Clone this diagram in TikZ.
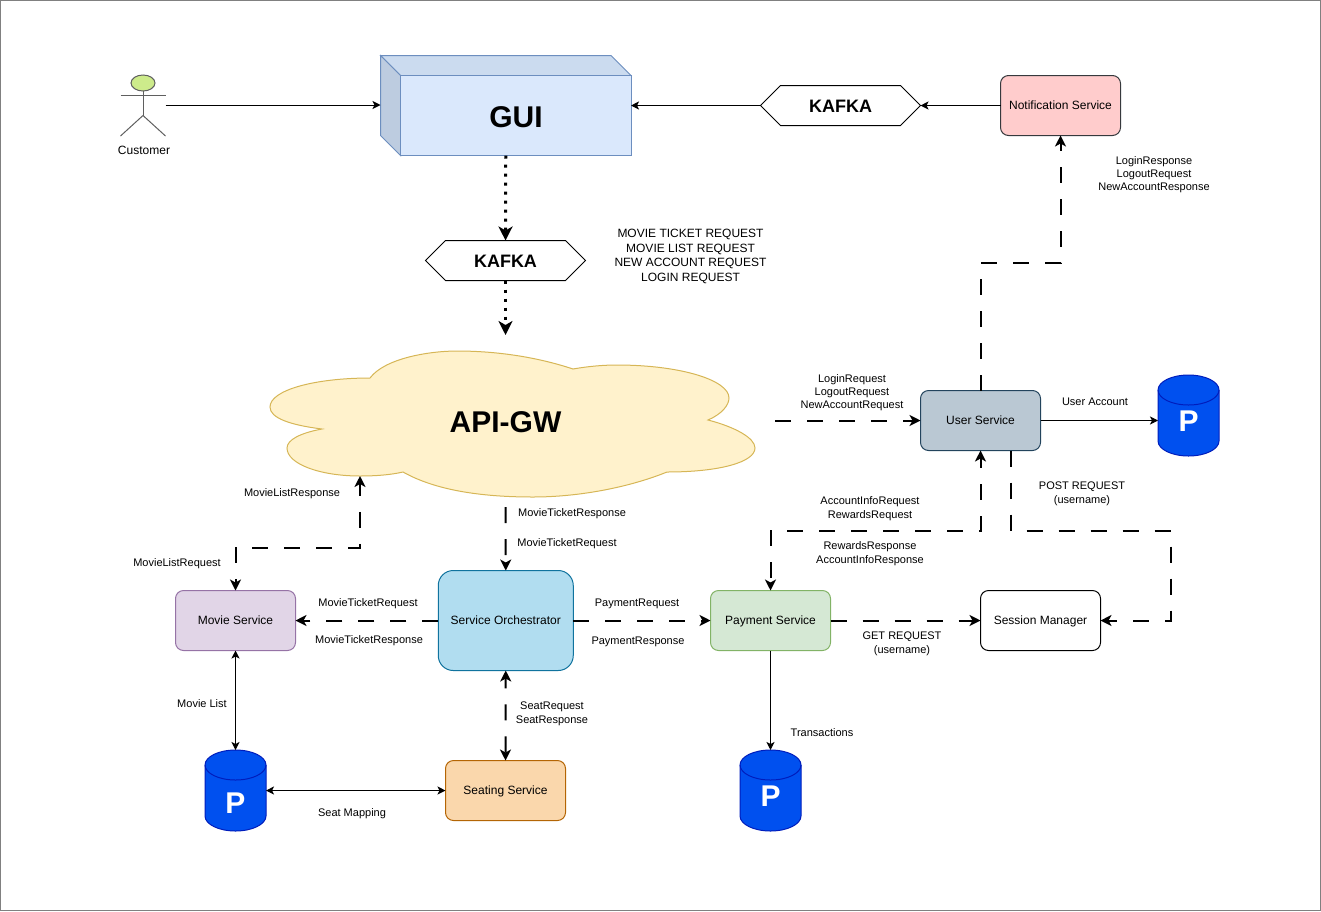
\documentclass[tikz,border=0pt]{standalone}
\usepackage{fontspec}
\setmainfont{Liberation Sans}
\usepackage{xcolor}
\usetikzlibrary{arrows.meta,shapes.symbols}

\definecolor{framegray}{HTML}{808080}
\definecolor{guifill}{HTML}{DAE8FC}
\definecolor{guitop}{HTML}{CBDBEF}
\definecolor{guileft}{HTML}{BDCCE0}
\definecolor{guiline}{HTML}{6C8EBF}
\definecolor{cloudfill}{HTML}{FFF2CC}
\definecolor{cloudline}{HTML}{D6B656}
\definecolor{headfill}{HTML}{CDEB8B}
\definecolor{stickline}{HTML}{5F5F5F}
\definecolor{notiffill}{HTML}{FFCCCC}
\definecolor{notifline}{HTML}{36393D}
\definecolor{userfill}{HTML}{BAC8D3}
\definecolor{userline}{HTML}{23445D}
\definecolor{moviefill}{HTML}{E1D5E7}
\definecolor{movieline}{HTML}{9673A6}
\definecolor{orchfill}{HTML}{B1DDF0}
\definecolor{orchline}{HTML}{10739E}
\definecolor{payfill}{HTML}{D5E8D4}
\definecolor{payline}{HTML}{82B366}
\definecolor{seatfill}{HTML}{FAD7AC}
\definecolor{seatline}{HTML}{B46504}
\definecolor{dbfill}{HTML}{0050EF}
\definecolor{dbline}{HTML}{001DBC}

\tikzset{
  svcbox/.style={draw, line width=1pt, rectangle, rounded corners=8pt, minimum width=120pt, minimum height=60pt, inner sep=0pt, outer sep=0pt, text height=8.6pt, text depth=0pt, font=\fontsize{12}{14.6}\selectfont},
  kafkabox/.style={draw, line width=1pt, signal, signal to=east and west, signal pointer angle=90, minimum width=160pt, minimum height=40pt, inner sep=0pt, outer sep=0pt, text height=14.9pt, text depth=0pt, font=\fontsize{18}{20}\selectfont\bfseries},
  dbstore/.style={rectangle, minimum width=61pt, minimum height=81pt, inner sep=0pt, outer sep=0pt},
  dbletter/.style={text=white, inner sep=0pt, font=\fontsize{30}{32}\selectfont\bfseries},
  lbl/.style={align=center, inner sep=0pt, yshift=-2pt, font=\fontsize{11}{13}\selectfont},
  lblwide/.style={align=center, inner sep=0pt, yshift=-2pt, font=\fontsize{11}{14}\selectfont},
  thinline/.style={line width=1pt, -{Stealth[length=8pt,width=8pt,inset=2pt]}},
  thinboth/.style={line width=1pt, {Stealth[length=8pt,width=8pt,inset=2pt]}-{Stealth[length=8pt,width=8pt,inset=2pt]}},
  dashline/.style={line width=2pt, dash pattern=on 16pt off 16pt, -{Stealth[length=11pt,width=11pt,inset=3pt]}},
  dashboth/.style={line width=2pt, dash pattern=on 16pt off 16pt, dash phase=5.5pt, {Stealth[length=11pt,width=11pt,inset=3pt]}-{Stealth[length=11pt,width=11pt,inset=3pt]}},
  dotline/.style={line width=3pt, dash pattern=on 3pt off 6pt, -{Stealth[length=14pt,width=14pt,inset=4pt]}},
}

\begin{document}
\begin{tikzpicture}[x=1pt, y=-1pt]

\useasboundingbox (0,0) rectangle (1321,911);
\draw[framegray, line width=1pt] (0.5,0.5) rectangle (1320.5,910.5);

% ===== Customer =====

\node[inner sep=0pt, outer sep=0pt, minimum width=45pt, minimum height=76pt] (customer) at (143,105) {};
\draw[stickline, line width=1pt, fill=headfill] (143,83) ellipse [x radius=12, y radius=8];
\draw[stickline, line width=1pt] (143,91) -- (143,115.5);
\draw[stickline, line width=1pt] (120.5,95) -- (165.5,95);
\draw[stickline, line width=1pt] (120.5,136) -- (143,115.5) -- (165.5,136);
\node[font=\fontsize{12}{14}\selectfont, inner sep=0pt] (customerlbl) at (144,150) {Customer};

% ===== GUI =====

\draw[guiline, line width=1pt, fill=guitop] (380.5,55.5) -- (611,55.5) -- (631,75.5) -- (400.5,75.5) -- cycle;
\draw[guiline, line width=1pt, fill=guileft] (380.5,55.5) -- (400.5,75.5) -- (400.5,155.5) -- (380.5,135.5) -- cycle;
\draw[guiline, line width=1pt, fill=guifill] (400.5,75.5) rectangle (631,155.5);
\node[inner sep=0pt, outer sep=0pt, minimum width=250.5pt, minimum height=100pt] (gui) at (505.75,105.5) {};
\node[font=\fontsize{30}{32}\selectfont\bfseries, inner sep=0pt] (guilbl) at (516,117) {GUI};

% ===== Kafka =====

\node[kafkabox] (kafkain) at (505.5,260.5) {KAFKA};
\node[kafkabox] (kafkaout) at (840.5,105.5) {KAFKA};
\node[align=center, inner sep=0pt, font=\fontsize{12}{14.6}\selectfont] (kafkalbl) at (690.5,256.5) {MOVIE TICKET REQUEST\\MOVIE LIST REQUEST\\NEW ACCOUNT REQUEST\\LOGIN REQUEST};

% ===== API gateway =====

\draw[cloudline, line width=1pt, fill=cloudfill] (370,378)
  .. controls (385,358) and (430,351) .. (457,351)
  .. controls (500,351) and (540,358) .. (573,369)
  .. controls (590,366) and (605,365) .. (617,365)
  .. controls (680,365) and (729,380) .. (729,398)
  .. controls (729,405) and (722,414) .. (708,420)
  .. controls (735,427) and (755,438) .. (755,448)
  .. controls (755,462) and (720,472) .. (667,472)
  .. controls (630,487) and (580,497) .. (533,497)
  .. controls (480,497) and (435,490) .. (403,472)
  .. controls (390,475) and (375,476) .. (360,476)
  .. controls (320,476) and (287,464) .. (287,448)
  .. controls (287,440) and (300,433) .. (322,429)
  .. controls (290,425) and (270,418) .. (270,407)
  .. controls (270,390) and (315,378) .. (370,378) -- cycle;
\node[font=\fontsize{30}{32}\selectfont\bfseries, inner sep=0pt] (apigw) at (505.5,422) {API-GW};

\coordinate (cloudtop) at (505.5,335);
\coordinate (cloudright) at (775,420.5);
\coordinate (cloudbottom) at (505.5,507);
\coordinate (cloudleft) at (360,476);

% ===== Services =====

\node[svcbox, fill=notiffill, draw=notifline] (notif) at (1060.5,105.5) {Notification Service};
\node[svcbox, fill=userfill, draw=userline] (user) at (980.5,420.5) {User Service};
\node[svcbox, fill=moviefill, draw=movieline] (movie) at (235.5,620.5) {Movie Service};
\node[svcbox, fill=orchfill, draw=orchline, rounded corners=15pt, minimum width=135pt, minimum height=100pt] (orch) at (505.75,620.5) {Service Orchestrator};
\node[svcbox, fill=payfill, draw=payline] (payment) at (770.5,620.5) {Payment Service};
\node[svcbox] (session) at (1040.5,620.5) {Session Manager};
\node[svcbox, fill=seatfill, draw=seatline] (seating) at (505.5,790.5) {Seating Service};

% ===== Stores =====

\foreach \dbname/\dbx/\dby/\dbdrop in {dbuser/1188.5/415.5/6, dbmovie/235.5/790.5/13, dbpay/770.5/790.5/6} {
  \begin{scope}[shift={(\dbx,\dby)}]
    \draw[dbline, line width=1pt, fill=dbfill] (-30.5,-25.5)
      .. controls (-30.5,-33.8) and (-16.8,-40.5) .. (0,-40.5)
      .. controls (16.8,-40.5) and (30.5,-33.8) .. (30.5,-25.5)
      -- (30.5,25.5)
      .. controls (30.5,33.8) and (16.8,40.5) .. (0,40.5)
      .. controls (-16.8,40.5) and (-30.5,33.8) .. (-30.5,25.5) -- cycle;
    \draw[dbline, line width=1pt] (-30.5,-25.5)
      .. controls (-30.5,-17.2) and (-16.8,-10.5) .. (0,-10.5)
      .. controls (16.8,-10.5) and (30.5,-17.2) .. (30.5,-25.5);
    \node[dbstore] (\dbname) at (0,0) {};
    \node[dbletter] (\dbname p) at (0,\dbdrop) {P};
  \end{scope}
}

% ===== Connectors =====

\draw[thinline] (customer.east) -- (customer.east -| gui.west);
\draw[thinline] (notif.west) -- (kafkaout.east);
\draw[thinline] (kafkaout.west) -- (kafkaout.west -| gui.east);
\draw[dotline] (gui.south) -- (kafkain.north);
\draw[dotline] (kafkain.south) -- (cloudtop);

\draw[dashline] (user.north) -- ++(0,-127.5) -| (notif.south);
\draw[dashline] (cloudright) -- (user.west);
\draw[thinline] (user.east) -- (user.east -| dbuser.west);
\draw[dashboth] (user.south) -- ++(0,80) -| (payment.north);
\coordinate (usertap) at ([xshift=30pt]user.south);
\draw[dashline] (usertap) -- ++(0,80) -| ++(160,90) -- (session.east);
\draw[dashline] (payment.east) -- (session.west);
\draw[thinline] (payment.south) -- (dbpay.north);

\draw[dashline] (orch.east) -- (payment.west);
\draw[dashline] (orch.west) -- (movie.east);
\draw[dashline] (cloudbottom) -- (orch.north);
\draw[dashboth, dash phase=3.5pt] (cloudleft) -- ++(0,71.5) -| (movie.north);
\draw[dashboth] (orch.south) -- (seating.north);
\draw[thinboth] (movie.south) -- (dbmovie.north);
\draw[thinboth] (dbmovie.east) -- (seating.west);

% ===== Labels =====

\node[lbl] (lbllogresp) at (1154,173) {LoginResponse\\LogoutRequest\\NewAccountResponse};
\node[lbl] (lbllogreq) at (852,391) {LoginRequest\\LogoutRequest\\NewAccountRequest};
\node[lbl] (lblaccount) at (1095,400) {User Account};
\node[lblwide] (lblpost) at (1082,492) {POST REQUEST\\(username)};
\node[lblwide] (lblinforeq) at (870,507) {AccountInfoRequest\\RewardsRequest};
\node[lblwide] (lblinforesp) at (870,552) {RewardsResponse\\AccountInfoResponse};
\node[lblwide] (lblget) at (902,642) {GET REQUEST\\(username)};
\node[lbl] (lbltrans) at (822,731) {Transactions};
\node[lbl] (lbllistresp) at (292,492) {MovieListResponse};
\node[lbl] (lbllistreq) at (177,562) {MovieListRequest};
\node[lbl] (lblticketresp) at (572,512) {MovieTicketResponse};
\node[lbl] (lblticketreq) at (567,542) {MovieTicketRequest};
\node[lbl] (lblpayreq) at (637,602) {PaymentRequest};
\node[lbl] (lblpayresp) at (638,640) {PaymentResponse};
\node[lbl] (lblmoviereq) at (368,602) {MovieTicketRequest};
\node[lbl] (lblmovieresp) at (369,639) {MovieTicketResponse};
\node[lbl] (lbllist) at (202,702) {Movie List};
\node[lblwide] (lblseat) at (552,712) {SeatRequest\\SeatResponse};
\node[lbl] (lblmapping) at (352,812) {Seat Mapping};

\end{tikzpicture}
\end{document}
